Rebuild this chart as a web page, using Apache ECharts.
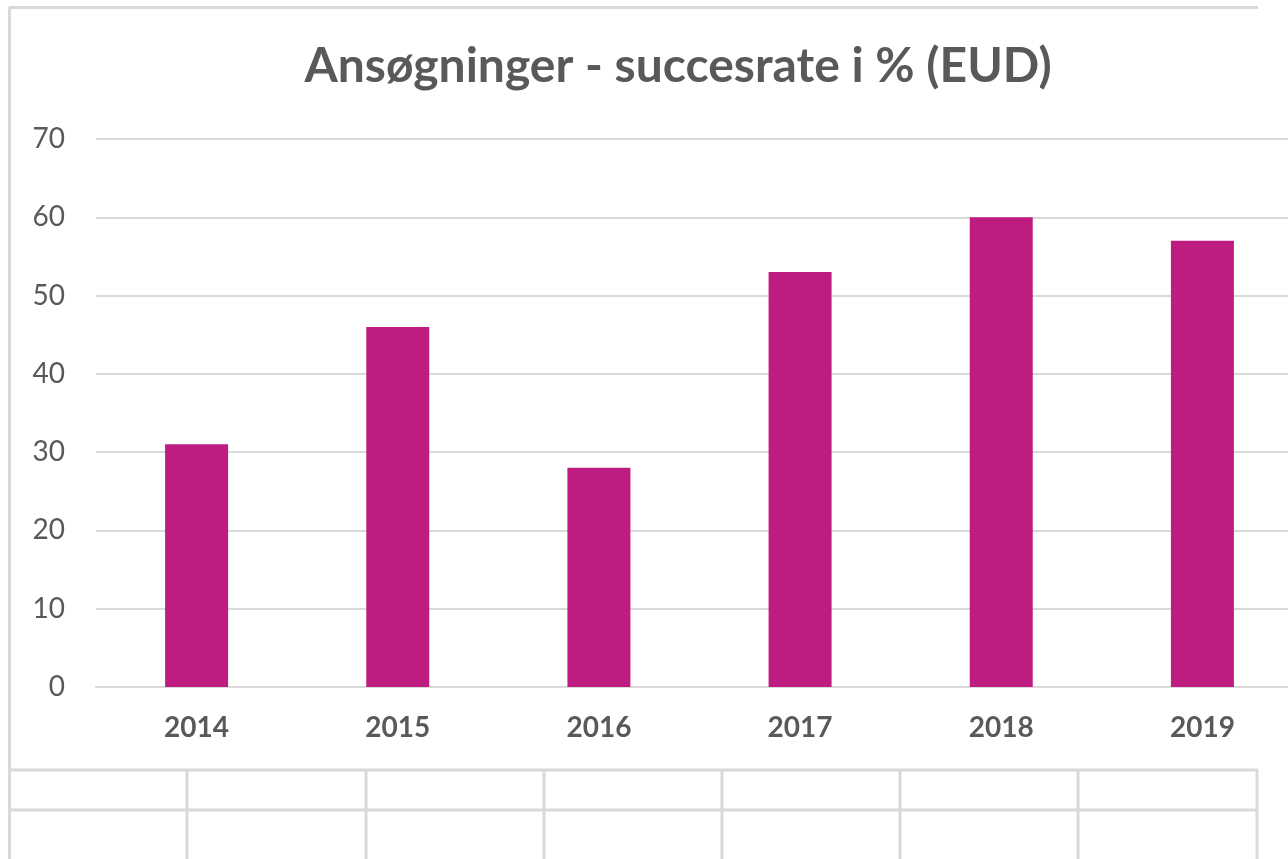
<!DOCTYPE html>
<html>
<head>
<meta charset="utf-8">
<script src="https://cdn.jsdelivr.net/npm/echarts@6/dist/echarts.min.js"></script>
<style>
  html, body { margin: 0; padding: 0; background: #fff; }
  #chart { width: 1288px; height: 859px; }
</style>
</head>
<body>
<div id="chart"></div>
<script>
const years = ['2014', '2015', '2016', '2017', '2018', '2019']
const successRate = [31, 46, 28, 53, 60, 57]
const yTicks = [0, 10, 20, 30, 40, 50, 60, 70]

const lineColor = '#d9d9d9'
// spreadsheet cell lines behind the chart (pure decoration)
const cellX = [187, 366, 544, 722, 900, 1078, 1257]
const deco = [
  { type: 'line', shape: { x1: 9.5, y1: 7, x2: 9.5, y2: 859 }, style: { stroke: lineColor, lineWidth: 3 } },
  { type: 'line', shape: { x1: 9, y1: 7.5, x2: 1258, y2: 7.5 }, style: { stroke: lineColor, lineWidth: 3 } },
  { type: 'line', shape: { x1: 9, y1: 770, x2: 1258, y2: 770 }, style: { stroke: lineColor, lineWidth: 3 } },
  { type: 'line', shape: { x1: 9, y1: 810, x2: 1258, y2: 810 }, style: { stroke: lineColor, lineWidth: 3 } }
]
cellX.forEach(x => {
  deco.push({ type: 'line', shape: { x1: x, y1: 770, x2: x, y2: 859 }, style: { stroke: lineColor, lineWidth: 3 } })
})

let myChart = echarts.init(document.getElementById('chart'))
let option = {
  animation: false,
  title: {
    text: 'Ansøgninger - succesrate i % (EUD)',
    left: 673,
    textAlign: 'center',
    top: 38,
    textStyle: {
      fontFamily: 'Lato',
      fontWeight: 'bold',
      fontSize: 48,
      color: '#595959'
    }
  },
  grid: {
    left: 96,
    width: 1207,
    top: 139,
    height: 548,
    outerBoundsMode: 'none'
  },
  xAxis: {
    type: 'category',
    data: years,
    axisLine: { lineStyle: { color: lineColor, width: 2 } },
    axisTick: { show: false },
    axisLabel: {
      margin: 27,
      fontFamily: 'Lato',
      fontWeight: 'bold',
      fontSize: 28,
      color: '#595959'
    }
  },
  yAxis: {
    type: 'value',
    min: 0,
    max: 70,
    interval: 10,
    axisLine: { show: false },
    axisTick: { show: false },
    splitLine: { lineStyle: { color: lineColor, width: 2 } },
    axisLabel: {
      margin: 31,
      fontFamily: 'Lato',
      fontSize: 28,
      color: '#595959',
      formatter: v => (yTicks.includes(v) ? String(v) : '')
    }
  },
  series: [
    {
      type: 'bar',
      data: successRate,
      barWidth: 63,
      itemStyle: { color: '#be1c80' }
    }
  ],
  graphic: deco
}
myChart.setOption(option, true)
</script>
</body>
</html>
